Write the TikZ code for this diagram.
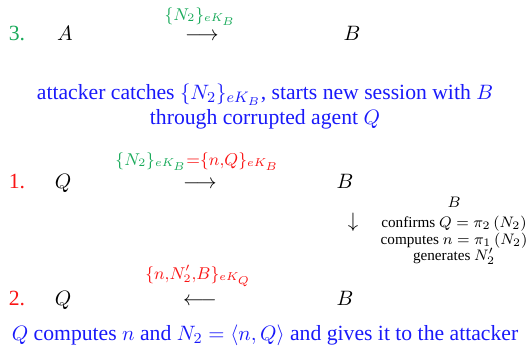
\documentclass[tikz,border=0pt]{standalone}
\usepackage{amsmath}
\usepackage{amssymb}
\usepackage{fontspec}
\setmainfont{Liberation Serif}
\usepackage{xcolor}
\usepackage{tikz}
\usetikzlibrary{positioning}

\definecolor{msggreen}{RGB}{25,170,90}
\definecolor{msgred}{RGB}{250,20,20}
\definecolor{noteblue}{RGB}{25,25,250}

\begin{document}
\begin{tikzpicture}[
    x=0.526pt,
    y=-0.526pt,
    every node/.style={inner sep=0pt, outer sep=0pt},
    stepnum/.style={
        anchor=base,
        font=\fontsize{11.4}{13.7}\selectfont
    },
    agent/.style={
        anchor=base,
        font=\fontsize{11.4}{13.7}\selectfont
    },
    msgarrow/.style={
        anchor=base,
        font=\fontsize{11.4}{13.7}\selectfont
    },
    msglabel/.style={
        anchor=base,
        font=\fontsize{13}{15}\selectfont
    },
    remark/.style={
        text=noteblue,
        align=center,
        font=\fontsize{11.4}{13.2}\selectfont
    },
    compute/.style={
        align=center,
        font={\fontsize{8}{7.6}\selectfont\lineskiplimit=-20pt\relax}
    }
]
\useasboundingbox (0,0) rectangle (531,356);

% step 3
\node[stepnum, text=msggreen] (num3) at (17,40) {3.};
\node[agent] (a3) at (65,40) {$A$};
\node[msgarrow] (arr3) at (202,40) {$\longrightarrow$};
\node[msglabel, text=msggreen] (key3) at (200,20) {$\scriptstyle\{N_2\}_{eK_B}$};
\node[agent] (b3) at (352,40) {$B$};

\node[remark, anchor=north] (catch) at (265,84)
    {attacker catches $\{N_2\}_{eK_B}$, starts new session with $B$\\
     through corrupted agent $Q$};

% step 1
\node[stepnum, text=msgred] (num1) at (17,188) {1.};
\node[agent] (q1) at (63,188) {$Q$};
\node[msgarrow] (arr1) at (200,188) {$\longrightarrow$};
\node[msglabel] (key1) at (197,165)
    {$\scriptstyle{\color{msggreen}\{N_2\}_{eK_B}}{\color{msgred}=\{n,Q\}_{eK_B}}$};
\node[agent] (b1) at (345,188) {$B$};

% B works on the message
\node[font=\fontsize{11.4}{13.7}\selectfont] (down) at (353,222) {$\downarrow$};
\node[compute, anchor=north] (work) at (454,197)
    {$B$\\[3pt]
     confirms $Q = \pi_2\left(N_2\right)$\\[1.2pt]
     computes $n = \pi_1\left(N_2\right)$\\[0.8pt]
     generates $N_2'$};

% step 2
\node[stepnum, text=msgred] (num2) at (17,305) {2.};
\node[agent] (q2) at (63,305) {$Q$};
\node[msgarrow] (arr2) at (200,305) {$\longleftarrow$};
\node[msglabel, text=msgred] (key2) at (198,279) {$\scriptstyle\{n,N_2',B\}_{eK_Q}$};
\node[agent] (b2) at (345,305) {$B$};

\node[remark, anchor=base] (gives) at (265,340)
    {$Q$ computes $n$ and $N_2 = \langle n, Q\rangle$ and gives it to the attacker};

\end{tikzpicture}
\end{document}
